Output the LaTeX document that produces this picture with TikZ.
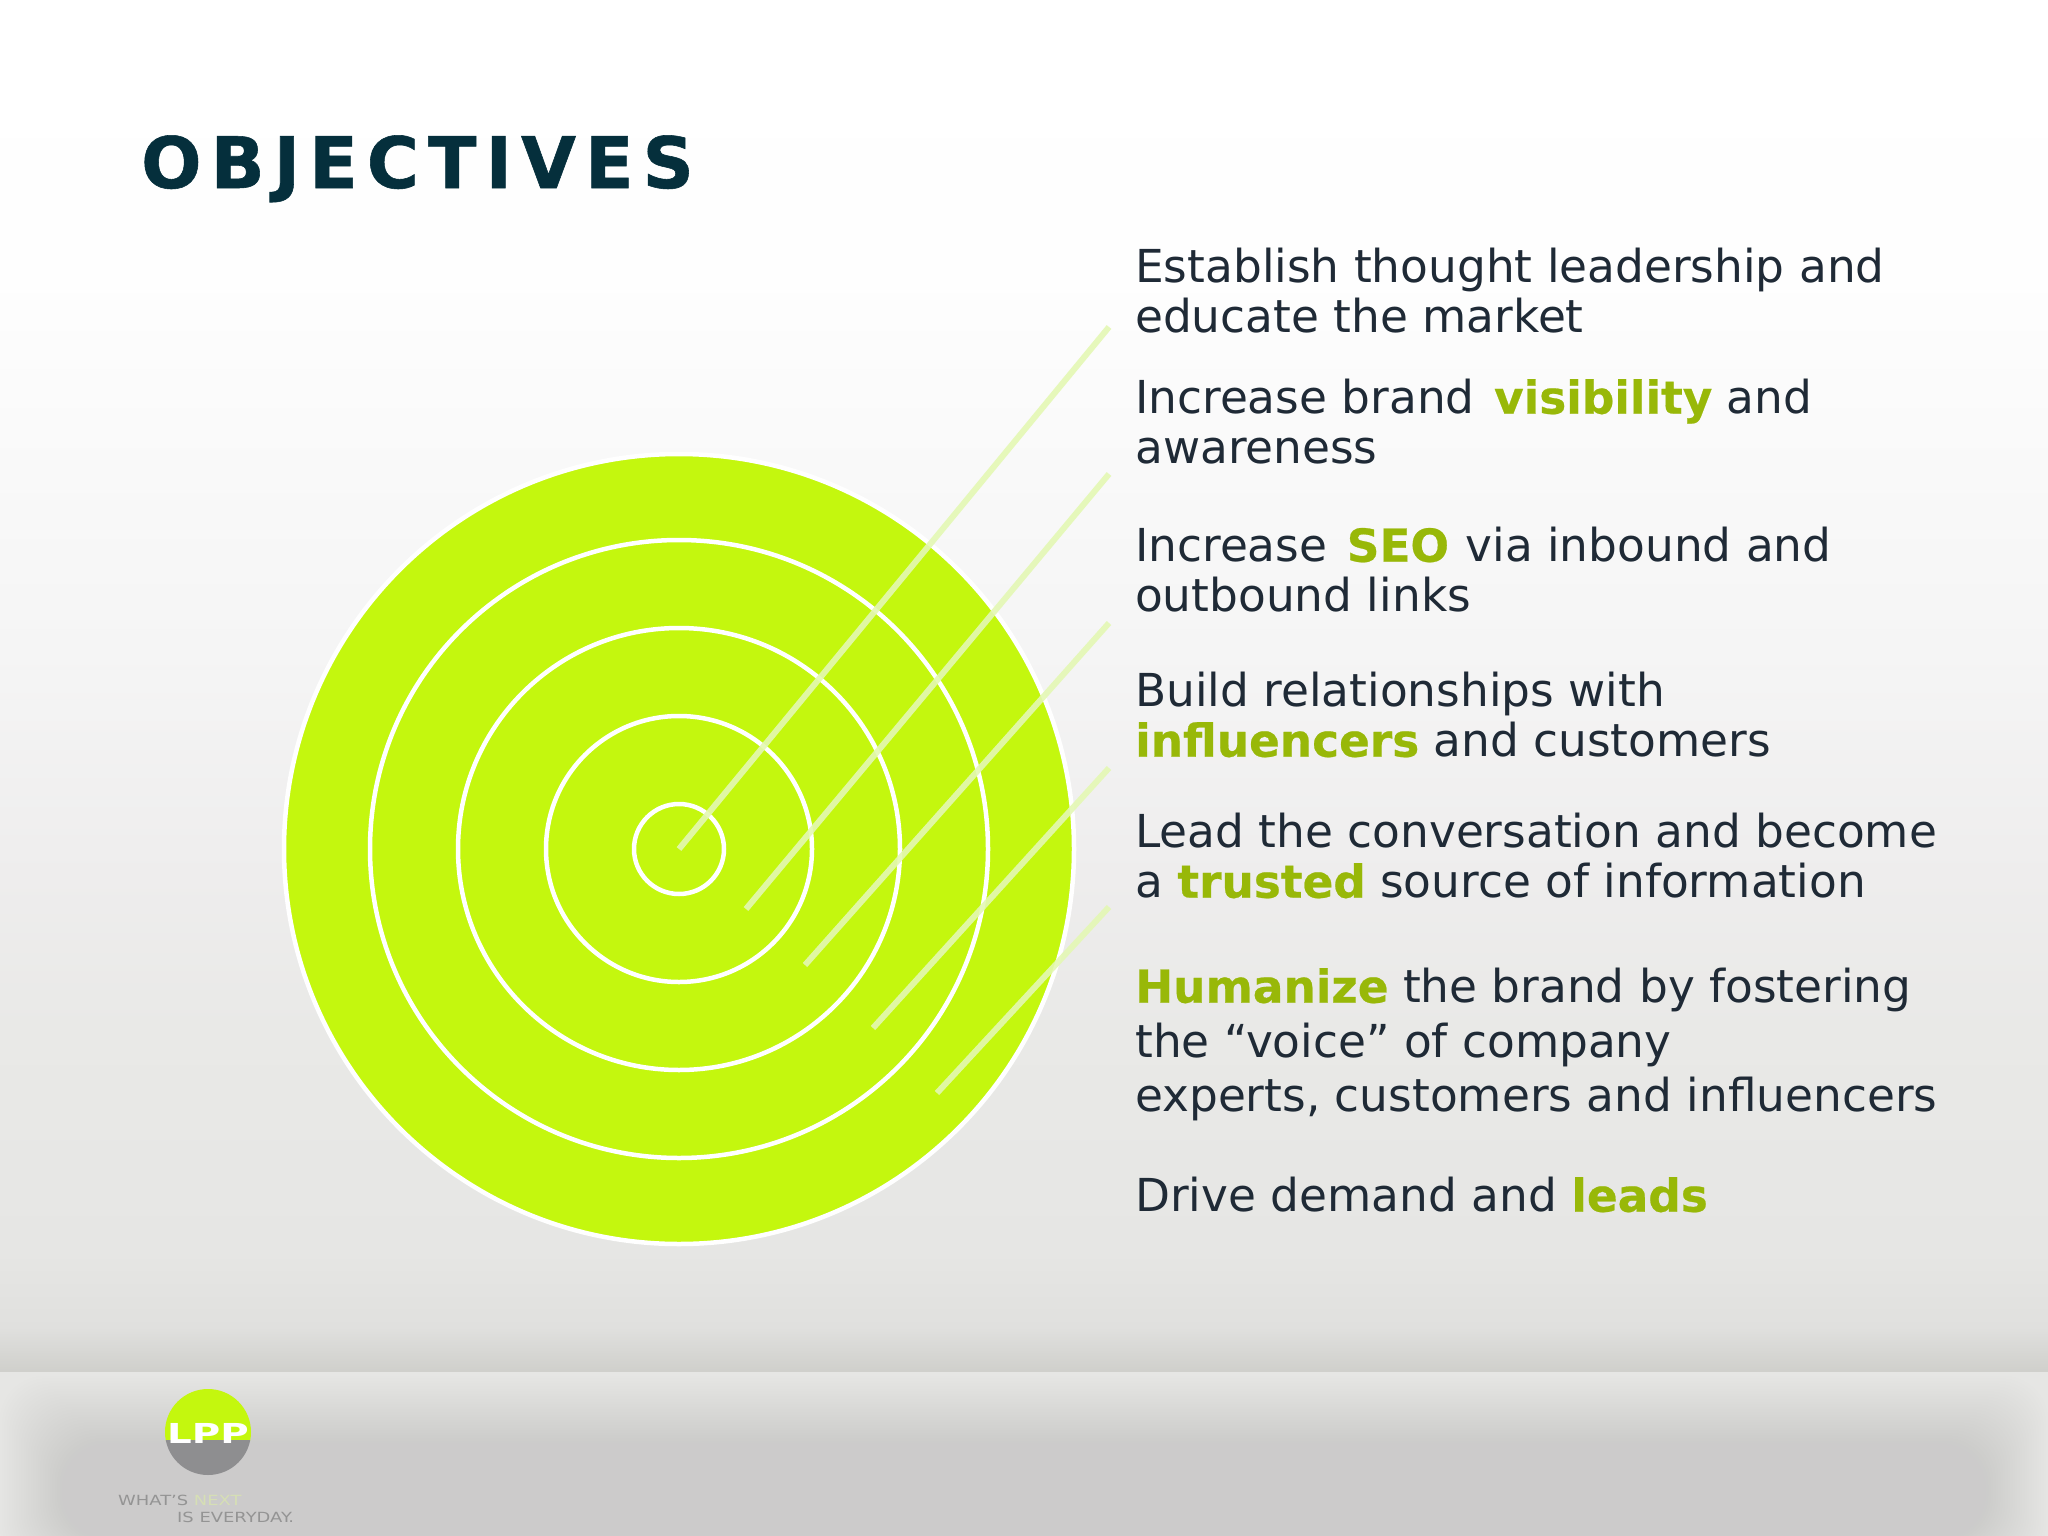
\documentclass[tikz,border=0pt]{standalone}
\usepackage{fontspec}
\setmainfont{DejaVu Sans}
\definecolor{inktext}{HTML}{1F2A36}
\definecolor{inktitle}{HTML}{052F3C}
\definecolor{hilite}{HTML}{98B808}
\definecolor{target}{HTML}{C4F70E}
\definecolor{ray}{HTML}{E4F8B4}
\definecolor{band}{HTML}{CCCBCB}
\definecolor{bgA}{HTML}{FFFFFF}
\definecolor{bgB}{HTML}{FEFEFE}
\definecolor{bgC}{HTML}{FAFAFA}
\definecolor{bgD}{HTML}{F5F5F5}
\definecolor{bgE}{HTML}{EEEDED}
\definecolor{bgF}{HTML}{E9E9E7}
\definecolor{bgG}{HTML}{E6E6E4}
\definecolor{bgH}{HTML}{E0E0DE}
\definecolor{bgI}{HTML}{CFCFCB}
\definecolor{logogray}{HTML}{8E8E90}
\newcommand{\hl}[1]{{\bfseries\addfontfeatures{FakeBold=0.5}\textcolor{hilite}{#1}}}
\tikzset{
  ringline/.style={draw=white,line width=4.5pt},
  rayline/.style={draw=ray,line width=6pt,opacity=.9},
  bodytext/.style={anchor=north west,inner sep=0pt,align=left,text=inktext,font=\fontsize{45.4}{50}\selectfont},
  tagtext/.style={anchor=base west,inner sep=0pt,font=\fontsize{14}{14}\selectfont,text=black!42},
}
\begin{document}
\begin{tikzpicture}[x=1pt,y=-1pt]
\useasboundingbox (0,0) rectangle (2048,1536);
\clip (0,0) rectangle (2048,1536);
% background
\shade[top color=bgA,bottom color=bgB] (0,0) rectangle (2048,275);
\shade[top color=bgB,bottom color=bgC] (0,274) rectangle (2048,426);
\shade[top color=bgC,bottom color=bgD] (0,425) rectangle (2048,651);
\shade[top color=bgD,bottom color=bgE] (0,650) rectangle (2048,877);
\shade[top color=bgE,bottom color=bgF] (0,876) rectangle (2048,1028);
\shade[top color=bgF,bottom color=bgG] (0,1027) rectangle (2048,1253);
\shade[top color=bgG,bottom color=bgH] (0,1252) rectangle (2048,1328);
\shade[top color=bgH,bottom color=bgI] (0,1327) rectangle (2048,1373);
% footer
\fill[bgG] (0,1372) rectangle (2048,1536);
\foreach \i in {0,...,27}{
  \pgfmathsetmacro{\op}{1/(28-\i)}
  \fill[band,opacity=\op,rounded corners=45pt] ({2.4*\i},{1376+2.6*\i}) rectangle ({2048-2.4*\i},{1570-1.2*\i});
}
% target
\fill[target,draw=white,line width=4.5pt] (679,849) circle (395);
\foreach \r in {45,133,221,309}{
  \draw[ringline] (679,849) circle (\r);
}
% rays
\coordinate (r1a) at (679,849); \coordinate (r1b) at (1109,327);
\coordinate (r2a) at (746,909); \coordinate (r2b) at (1109,474);
\coordinate (r3a) at (805,965); \coordinate (r3b) at (1109,623);
\coordinate (r4a) at (873,1028); \coordinate (r4b) at (1109,768);
\coordinate (r5a) at (937,1093); \coordinate (r5b) at (1109,907);
\foreach \k in {1,...,5}{ \draw[rayline] (r\k a) -- (r\k b); }
% title
\node[anchor=base west,inner sep=0pt,text=inktitle,font=\fontsize{71}{71}\bfseries\selectfont\addfontfeatures{LetterSpace=12.8,FakeBold=0.8}] (title) at (141,188) {OBJECTIVES};
% text
\node[bodytext] (t1) at (1135,248) {Establish thought leadership and\\educate the market};
\node[bodytext] (t2) at (1135,379) {Increase brand\kern5pt{} \hl{visibility} and\\awareness};
\node[bodytext] (t3) at (1135,527) {Increase\kern5pt{} \hl{SEO} \kern2pt{}via inbound and\\outbound links};
\node[bodytext] (t4) at (1135,672) {Build relationships with\\\hl{influencers} and customers};
\node[bodytext] (t5) at (1135,813) {Lead the conversation and become\\a \hl{trusted} source of information};
\node[bodytext,font=\fontsize{45.4}{54.5}\selectfont] (t6) at (1135,968) {\hl{Humanize} the brand by fostering\\the “voice” of company\\experts, customers and influencers};
\node[bodytext] (t7) at (1135,1177) {Drive demand and \hl{leads}};
% logo
\begin{scope}
\clip (165,1340) rectangle (251,1441);
\fill[target] (208,1432) circle (43);
\end{scope}
\begin{scope}
\clip (165,1440) rectangle (251,1480);
\fill[logogray] (208,1432) circle (43);
\end{scope}
\node[inner sep=0pt,text=white,font=\fontsize{27.5}{27.5}\bfseries\selectfont] (logo) at (208,1433) {\scalebox{1.41}[1]{LPP}};
\node[tagtext] (tag1) at (118,1505) {\scalebox{1.28}[1]{WHAT’S \textcolor{target!60!black!30!white}{NEXT}}};
\node[tagtext] (tag2) at (177,1522) {\scalebox{1.28}[1]{IS EVERYDAY.}};
\end{tikzpicture}
\end{document}
